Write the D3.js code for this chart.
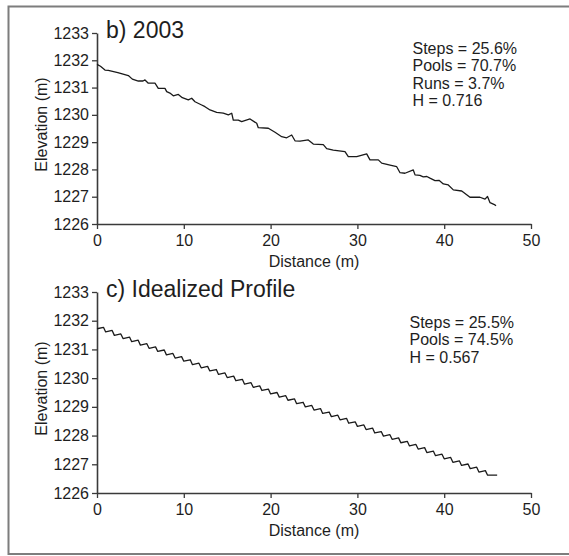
<!DOCTYPE html>
<html>
<head>
<meta charset="utf-8">
<script src="https://cdn.jsdelivr.net/npm/d3@7"></script>
<style>
  html, body { margin: 0; padding: 0; background: #fff; }
  svg { display: block; font-family: "Liberation Sans", Arial, Helvetica, sans-serif; }
</style>
</head>
<body>
<svg id="chart" width="569" height="556"></svg>
<script>
// Surveyed long profile, 2003: distance downstream (m) and bed elevation (m)
const surveyDistance = [
  0.00, 0.40, 0.92, 1.30, 2.40, 3.61, 4.07, 4.76, 5.30, 5.53, 5.91, 6.68, 7.06, 7.83,
  8.03, 8.40, 8.79, 9.37, 9.83, 10.52, 10.91, 11.29, 12.06, 12.44, 13.02, 13.79, 14.55,
  15.13, 15.52, 15.70, 16.28, 16.67, 17.63, 18.40, 18.58, 19.74, 20.51, 21.28, 21.85,
  22.43, 22.81, 23.39, 24.34, 24.92, 26.07, 26.46, 27.22, 28.57, 28.95, 29.92, 31.07,
  31.45, 32.41, 32.80, 33.76, 34.53, 34.91, 35.48, 36.44, 36.64, 37.20, 37.59, 38.00,
  38.36, 38.94, 39.40, 39.90, 40.47, 41.05, 42.02, 42.97, 44.12, 44.70, 44.99, 45.28,
  45.85, 45.97
];
const surveyElevation = [
  1231.85, 1231.78, 1231.64, 1231.63, 1231.55, 1231.44, 1231.31, 1231.24, 1231.24, 1231.28,
  1231.16, 1231.16, 1230.97, 1230.97, 1230.85, 1230.80, 1230.70, 1230.75, 1230.63, 1230.55,
  1230.61, 1230.48, 1230.36, 1230.30, 1230.18, 1230.09, 1230.06, 1230.00, 1230.06, 1229.81,
  1229.81, 1229.75, 1229.85, 1229.69, 1229.53, 1229.51, 1229.36, 1229.20, 1229.16, 1229.26,
  1229.05, 1229.04, 1229.08, 1228.93, 1228.91, 1228.76, 1228.71, 1228.65, 1228.47, 1228.47,
  1228.57, 1228.35, 1228.35, 1228.23, 1228.16, 1228.10, 1227.88, 1227.86, 1227.98, 1227.80,
  1227.78, 1227.73, 1227.74, 1227.68, 1227.59, 1227.60, 1227.47, 1227.43, 1227.25, 1227.21,
  1226.98, 1226.98, 1226.91, 1227.01, 1226.78, 1226.70, 1226.67
];

// Idealized profile: start (m) and pool-floor elevation (m) of each step-pool unit
const idealUnitStart = [
  0, 1, 2, 3, 4, 5, 6, 7, 8, 9, 10, 11, 12, 13, 14, 15, 16, 17, 18, 19, 20, 21, 22,
  23, 24, 25, 26, 27, 28, 29, 30, 31, 32, 33, 34, 35, 36, 37, 38, 39, 40, 41, 42, 43, 44, 45
];
const idealUnitElevation = [
  1231.72, 1231.61, 1231.49, 1231.38, 1231.27, 1231.15, 1231.04, 1230.93, 1230.81, 1230.70,
  1230.59, 1230.47, 1230.36, 1230.25, 1230.13, 1230.02, 1229.91, 1229.79, 1229.68, 1229.57,
  1229.45, 1229.34, 1229.23, 1229.11, 1229.00, 1228.89, 1228.77, 1228.66, 1228.55, 1228.43,
  1228.32, 1228.21, 1228.09, 1227.98, 1227.87, 1227.75, 1227.64, 1227.53, 1227.41, 1227.30,
  1227.19, 1227.07, 1226.96, 1226.85, 1226.73, 1226.62
];
const idealEnd = 46.1;          // downstream end of the idealized reach (m)
const idealPoolRise = 0.05;     // adverse rise across each pool (m)
const idealStepsPct = 25.5;
const idealPoolsPct = 74.5;
const idealH = 0.567;

const surveyStepsPct = 25.6;
const surveyPoolsPct = 70.7;
const surveyRunsPct = 3.7;
const surveyH = 0.716;

const panelTitles = ["b) 2003", "c) Idealized Profile"];
const xTickValues = [0, 10, 20, 30, 40, 50];
const yTickValues = [1226, 1227, 1228, 1229, 1230, 1231, 1232, 1233];
const xLabel = "Distance (m)";
const yLabel = "Elevation (m)";

// ---- build the plotted series ----
const surveyPoints = surveyDistance.map((d, i) => [d, surveyElevation[i]]);

const poolFrac = idealPoolsPct / (idealPoolsPct + idealStepsPct);
const idealPoints = [];
idealUnitStart.forEach((d0, i) => {
  const e0 = idealUnitElevation[i];
  idealPoints.push([d0, e0]);
  if (i < idealUnitStart.length - 1) {
    const len = idealUnitStart[i + 1] - d0;
    idealPoints.push([d0 + poolFrac * len, e0 + idealPoolRise]);
  } else {
    idealPoints.push([idealEnd, e0]);
  }
});

const panels = [
  {
    title: panelTitles[0],
    points: surveyPoints,
    stats: [
      `Steps = ${surveyStepsPct.toFixed(1)}%`,
      `Pools = ${surveyPoolsPct.toFixed(1)}%`,
      `Runs = ${surveyRunsPct.toFixed(1)}%`,
      `H = ${surveyH.toFixed(3)}`
    ],
    top: 33, bottom: 224, statsX: 412.5, statsY: 53.5, labelShift: -4
  },
  {
    title: panelTitles[1],
    points: idealPoints,
    stats: [
      `Steps = ${idealStepsPct.toFixed(1)}%`,
      `Pools = ${idealPoolsPct.toFixed(1)}%`,
      `H = ${idealH.toFixed(3)}`
    ],
    top: 292, bottom: 493, statsX: 409.5, statsY: 327.5, labelShift: -4
  }
];

const svg = d3.select("#chart");
const ink = "#1e1e1e";

// outer frame
svg.append("rect")
  .attr("x", 8.5).attr("y", 6.5)
  .attr("width", 570).attr("height", 547.5)
  .attr("fill", "none")
  .attr("stroke", "#7d7d7d")
  .attr("stroke-width", 2);

const plotLeft = 97, plotRight = 531;

panels.forEach(p => {
  const x = d3.scaleLinear().domain([0, 50]).range([plotLeft, plotRight]);
  const y = d3.scaleLinear().domain([1226, 1233]).range([p.bottom, p.top]);
  const g = svg.append("g");

  const xAxis = g.append("g")
    .attr("transform", `translate(0,${p.bottom})`)
    .call(d3.axisBottom(x).tickValues(xTickValues).tickSize(5).tickSizeOuter(0).tickPadding(6));
  const yAxis = g.append("g")
    .attr("transform", `translate(${plotLeft},0)`)
    .call(d3.axisLeft(y).tickValues(yTickValues).tickFormat(d3.format("d")).tickSize(5).tickSizeOuter(0).tickPadding(3));

  [xAxis, yAxis].forEach(a => {
    a.select(".domain").attr("stroke", "#3a3a3a").attr("stroke-width", 1.6);
    a.selectAll(".tick line").attr("stroke", "#3a3a3a").attr("stroke-width", 1.3);
    a.selectAll(".tick text")
      .attr("fill", ink)
      .style("font-size", "16px")
      .style("font-family", "'Liberation Sans', Arial, Helvetica, sans-serif");
  });

  // axis titles
  g.append("text")
    .attr("x", (plotLeft + plotRight) / 2)
    .attr("y", p.bottom + 42.5)
    .attr("text-anchor", "middle")
    .attr("fill", ink)
    .style("font-size", "16px")
    .text(xLabel);

  g.append("text")
    .attr("transform", `translate(47,${(p.top + p.bottom) / 2 + p.labelShift}) rotate(-90)`)
    .attr("text-anchor", "middle")
    .attr("fill", ink)
    .style("font-size", "16px")
    .text(yLabel);

  // panel title
  g.append("text")
    .attr("x", 106)
    .attr("y", p.top + 5)
    .attr("fill", ink)
    .style("font-size", "23px")
    .text(p.title);

  // summary statistics
  g.append("g").selectAll("text")
    .data(p.stats)
    .join("text")
    .attr("x", p.statsX)
    .attr("y", (d, i) => p.statsY + i * 17.6)
    .attr("fill", ink)
    .style("font-size", "16px")
    .text(d => d);

  // profile line
  g.append("path")
    .datum(p.points)
    .attr("fill", "none")
    .attr("stroke", "#1a1a1a")
    .attr("stroke-width", 1.3)
    .attr("stroke-linejoin", "round")
    .attr("d", d3.line().x(d => x(d[0])).y(d => y(d[1])));
});
</script>
</body>
</html>
